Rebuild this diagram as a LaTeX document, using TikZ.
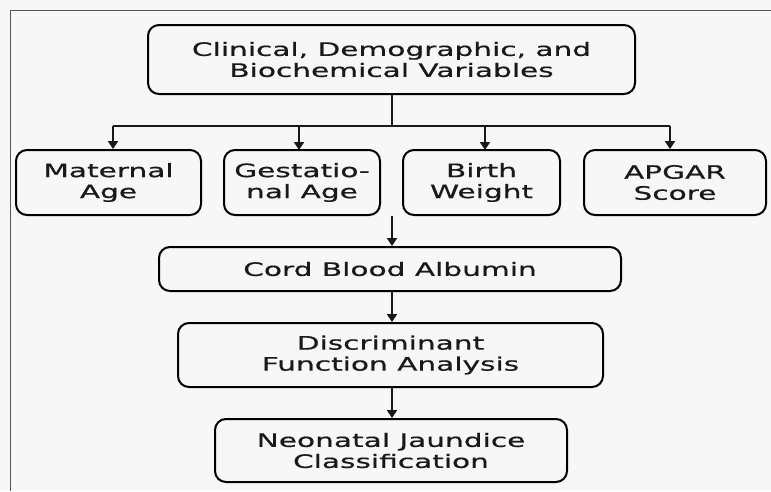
\documentclass[tikz,border=0pt]{standalone}
\usepackage{fontspec}
\setmainfont{DejaVu Sans}[FakeStretch=1.6,FakeBold=0.6]
\usetikzlibrary{arrows.meta}
\definecolor{bgc}{HTML}{F7F7F7}
\definecolor{framec}{HTML}{555555}
\begin{document}
\begin{tikzpicture}[x=1pt,y=-1pt,
  box/.style={draw=black,line width=2pt,rounded corners=11pt,align=center,
    inner sep=0pt,font=\fontsize{18.5}{21}\selectfont,text=black!90},
  conn/.style={line width=2pt,draw=black!90},
  arr/.style={conn,-{Triangle[length=8pt,width=10pt]}}]
\fill[bgc] (0,0) rectangle (771,491);
\useasboundingbox (0,0) rectangle (771,491);
\draw[framec,line width=1pt] (10,491) -- (10,10) -- (771,10);
\node[box,minimum width=487pt,minimum height=69pt] (top) at (391.5,59.5)
  {Clinical, Demographic, and\\Biochemical Variables};
\node[box,minimum width=185pt,minimum height=65pt] (mat) at (108.5,182.5) {Maternal\\Age};
\node[box,minimum width=156pt,minimum height=65pt] (ges) at (302,182.5) {Gestatio-\\nal Age};
\node[box,minimum width=157pt,minimum height=65pt] (bw) at (481.5,182.5) {Birth\\Weight};
\node[box,minimum width=182pt,minimum height=65pt] (apg) at (675,182.5) {APGAR\\Score};
\node[box,minimum width=462pt,minimum height=44pt] (cord) at (390,269) {Cord Blood Albumin};
\node[box,minimum width=425pt,minimum height=64pt] (dfa) at (390.5,355) {Discriminant\\Function Analysis};
\node[box,minimum width=352pt,minimum height=63pt] (njc) at (391,450.5) {Neonatal Jaundice\\Classification};
\coordinate (bar) at (392,126);
\coordinate (barL) at (113,126);
\coordinate (barR) at (670,126);
\coordinate (mid) at (392,216);
\draw[conn] (top.south -| bar) -- (bar);
\draw[conn] (barL) -- (barR);
\draw[arr] (barL) -- (barL |- mat.north);
\draw[arr] (299,126) -- (299,150);
\draw[arr] (485,126) -- (485,150);
\draw[arr] (barR) -- (barR |- apg.north);
\draw[arr] (mid) -- (mid |- cord.north);
\draw[arr] (cord.south -| mid) -- (dfa.north -| mid);
\draw[arr] (dfa.south -| mid) -- (njc.north -| mid);
\end{tikzpicture}
\end{document}
